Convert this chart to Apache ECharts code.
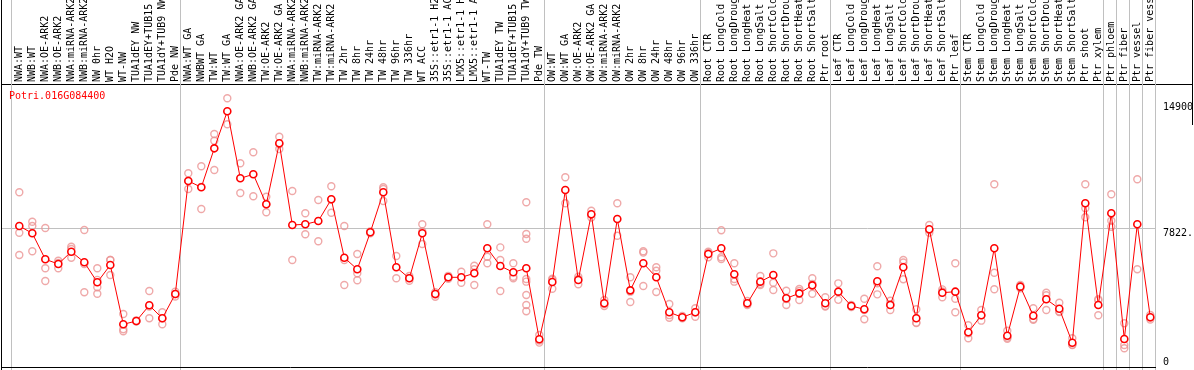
<!DOCTYPE html>
<html><head><meta charset="utf-8">
<script src="https://cdn.jsdelivr.net/npm/echarts@6/dist/echarts.min.js"></script>
<style>html,body{margin:0;padding:0;background:#fff}#c{width:1194px;height:370px}</style>
</head><body><div id="c"></div>
<script>
const geneId = 'Potri.016G084400';
const categories = [
 'NWA:WT','NWB:WT','NWA:OE-ARK2','NWB:OE-ARK2','NWA:miRNA-ARK2','NWB:miRNA-ARK2','NW 0hr','WT H2O','WT-NW','TUA1dEY NW','TUA1dEY+TUB15 NW','TUA1dY+TUB9 NW','Pde NW',
 'NWA:WT GA','NWBWT GA','TW:WT','TW:WT GA','NWA:OE-ARK2 GA','NWB:OE-ARK2 GA','TW:OE-ARK2','TW:OE-ARK2 GA','NWA:miRNA-ARK2 GA','NWB:miRNA-ARK2 GA','TW:miRNA-ARK2','TW:miRNA-ARK2 GA',
 'TW 2hr','TW 8hr','TW 24hr','TW 48hr','TW 96hr','TW 336hr','WT ACC','35S::etr1-1 H2O','35S::etr1-1 ACC','LMX5::etr1-1 H2O','LMX5::etr1-1 ACC','WT-TW','TUA1dEY TW','TUA1dEY+TUB15 TW','TUA1dY+TUB9 TW','Pde TW',
 'OW:WT','OW:WT GA','OW:OE-ARK2','OW:OE-ARK2 GA','OW:miRNA-ARK2','OW:miRNA-ARK2 GA','OW 2hr','OW 8hr','OW 24hr','OW 48hr','OW 96hr','OW 336hr',
 'Root CTR','Root LongCold','Root LongDrought','Root LongHeat','Root LongSalt','Root ShortCold','Root ShortDrought','Root ShortHeat','Root ShortSalt','Ptr root',
 'Leaf CTR','Leaf LongCold','Leaf LongDrought','Leaf LongHeat','Leaf LongSalt','Leaf ShortCold','Leaf ShortDrought','Leaf ShortHeat','Leaf ShortSalt','Ptr leaf',
 'Stem CTR','Stem LongCold','Stem LongDrought','Stem LongHeat','Stem LongSalt','Stem ShortCold','Stem ShortDrought','Stem ShortHeat','Stem ShortSalt','Ptr shoot',
 'Ptr xylem','Ptr phloem','Ptr fiber','Ptr vessel','Ptr fiber vessel'
];
const means = [
 7949,7539,6079,5815,6506,5910,4787,5758,2427,2612,3494,2764,4129,
 10478,10124,12313,14393,10629,10854,9169,12596,8006,8045,8230,9449,
 6169,5517,7596,9843,5629,5011,7539,4129,5067,5067,5292,6697,5702,5348,5573,1584,
 4803,9972,4916,8607,3607,8343,4335,5854,5067,3101,2820,3101,
 6376,6697,5236,3607,4822,5197,3888,4166,4616,3607,
 4260,3457,3269,4843,3511,5629,2764,7764,4202,4260,
 1978,2933,6697,1787,4541,2910,3831,3303,1393,9225,
 3511,8663,1601,8045,2820
];
const replicates = [
 [9843,7573,6320],[8191,7949,6528],[7837,5573,4860],[6000,5870,5573],[6787,6657,6169],[7725,5815,4224],[5573,4920,4506,4146],[6039,6039,5197],[3006,2146,2034],[2650,2600,2590],[4298,3420,2764],[3101,2760,2427],[4260,4130,3990],
 [10909,10500,10028],[11303,10150,8904],[13118,12742,11096],[15124,13663],[11472,9803],[12090,9618],[9596,9190,8719],[12966,12550,12275],[9916,6039],[8663,7483],[9410,7090],[10180,9440,8697],
 [7949,6039,4635],[6376,5292,4899],[7650,7600,7540],[10124,10028,9354],[6264,5011],[5140,5020,4870],[8045,7640,6938],[4224,4100,3978],[5150,5070,4980],[5382,4764],[5719,5520,4635],[8045,6225,5854],[6747,6039,4298],[5854,5101,5011],[9281,7500,7237,4972,4822,4073,3511,3157],[1830,1520,1400],
 [4990,4930,4420],[10685,9225],[5101,4974,4674],[8809,8600,8420],[3794,3570,3457],[9225,7405],[5067,4260,3680],[6528,6455,4579],[5629,5438,4242],[3567,2940,2798],[2900,2790,2770],[3326,3100,2854],
 [6506,6430,6190],[7708,6191,6096],[5854,4972,4822],[3738,3570,3513],[5140,4700,4635],[6414,4764,4354],[4315,3840,3511],[4410,4300,3792],[5011,4690,4146],[3944,3420,3457],
 [4728,4250,3800],[3510,3460,3400],[3865,3230,2708],[5685,4730,4110],[3753,3550,3230],[6039,5900,4955],[3269,2520,2500],[8006,7720,7570],[4390,4270,3944],[5854,3865,3101],
 [2371,1920,1640],[3230,2940,2631],[10292,5326,4393],[2067,1680,1618],[4635,4540,4450],[3326,2680,2725],[4202,4060,3230],[3640,3120,3150],[1640,1280,1260],[10292,8944,8438],
 [3831,3770,2933],[9730,8247,7910],[2483,1264,1079],[10573,5517],[2950,2810,2700]
];
const groupStarts = [0,13,41,53,63,73,84,85,86,87,88];
const yTickValues = [7822, 14900];
const yTickLabels = ['7822.', '14900'];
const yZeroValues = [0];
const yZeroLabels = ['0'];

// layout (pixels)
const L = {gridLeft: 2, gridRight: 1156, firstCat: 19.3, step: 13, sepShift: 0.654,
           zeroY: 367.5, top: -10, H: 370, W: 1194, pxPerUnit: 0.0178, axisY: 84};
const xMin = (L.gridLeft - L.firstCat) / L.step;
const xMax = (L.gridRight - L.firstCat) / L.step;
const yMin = -(L.H - L.zeroY) / L.pxPerUnit;
const yMax = (L.zeroY - L.top) / L.pxPerUnit;
const FONT = 'DejaVu Sans Mono';

const chart = echarts.init(document.getElementById('c'), null, {renderer: 'canvas'});
chart.setOption({
  animation: false,
  backgroundColor: '#fff',
  textStyle: {fontFamily: FONT},
  title: {text: geneId, left: 9, top: 91, padding: 0,
          textStyle: {color: '#ff0000', fontSize: 10, fontWeight: 'normal', fontFamily: FONT}},
  grid: {left: L.gridLeft, right: L.W - L.gridRight, top: L.top, bottom: 0,
         containLabel: false, outerBoundsMode: 'none'},
  xAxis: {
    type: 'value', position: 'top', offset: -(L.axisY - L.top), min: xMin, max: xMax,
    axisLine: {show: false},
    axisTick: {show: false, customValues: groupStarts.map(k => k - L.sepShift)},
    splitLine: {show: true, lineStyle: {color: '#c0c0c0', width: 1}},
    axisLabel: {customValues: categories.map((_, i) => i), formatter: v => categories[Math.round(v)],
                rotate: 90, margin: 2, fontSize: 10, fontFamily: FONT, color: '#000', hideOverlap: false}
  },
  yAxis: [
    {type: 'value', position: 'right', min: yMin, max: yMax,
     axisLine: {show: false}, axisTick: {show: false, customValues: [yTickValues[0]]},
     splitLine: {show: true, lineStyle: {color: '#c0c0c0', width: 1}},
     axisLabel: {customValues: yTickValues, formatter: v => yTickLabels[yTickValues.indexOf(v)],
                 verticalAlign: 'top', align: 'left', margin: 7, fontSize: 10, fontFamily: FONT, color: '#000'}},
    {type: 'value', position: 'right', min: yMin, max: yMax,
     axisLine: {show: false}, axisTick: {show: false}, splitLine: {show: false},
     axisLabel: {customValues: yZeroValues, formatter: v => yZeroLabels[yZeroValues.indexOf(v)],
                 verticalAlign: 'bottom', align: 'left', margin: 7, fontSize: 10, fontFamily: FONT, color: '#000'}}
  ],
  series: [
    {type: 'scatter', name: 'replicates', silent: true, z: 2,
     data: replicates.flatMap((vals, i) => vals.map(v => [i, v])),
     symbol: 'circle', symbolSize: 7,
     itemStyle: {color: 'rgba(255,255,255,0)', borderColor: '#eb9494', borderWidth: 1.4}},
    {type: 'line', name: geneId, silent: true, z: 3,
     data: means.map((v, i) => [i, v]),
     symbol: 'circle', symbolSize: 7, showAllSymbol: true,
     lineStyle: {color: '#ff0000', width: 1},
     itemStyle: {color: '#ffffff', borderColor: '#ff0000', borderWidth: 1.6},
     markLine: {silent: true, symbol: 'none', label: {show: false},
                lineStyle: {color: '#000', width: 1, type: 'solid'}, data: [{yAxis: 0}]}}
  ],
  graphic: [
    {type: 'line', silent: true, shape: {x1: 1.5, y1: 0, x2: 1.5, y2: L.H}, style: {stroke: '#000', lineWidth: 1}},
    {type: 'line', silent: true, shape: {x1: 1.5, y1: L.axisY + 0.5, x2: 1192.5, y2: L.axisY + 0.5}, style: {stroke: '#000', lineWidth: 1}},
    {type: 'line', silent: true, shape: {x1: 1192.5, y1: 0, x2: 1192.5, y2: 125}, style: {stroke: '#000', lineWidth: 1}}
  ]
});
</script></body></html>
